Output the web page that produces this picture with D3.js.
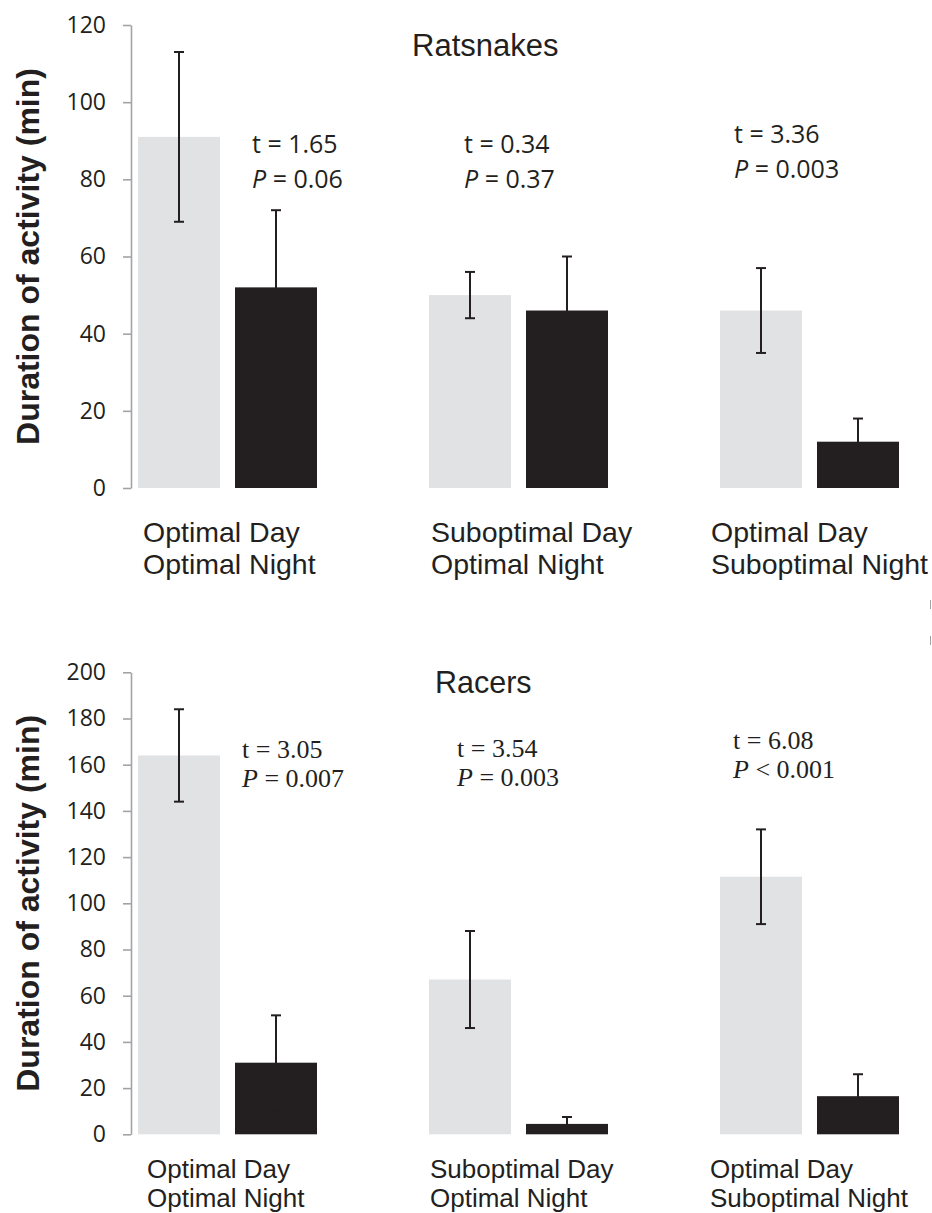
<!DOCTYPE html>
<html>
<head>
<meta charset="utf-8">
<script src="https://cdn.jsdelivr.net/npm/d3@7"></script>
<style>
  html, body { margin: 0; padding: 0; background: #fff; }
  svg { display: block; }
</style>
</head>
<body>
<div id="chart"></div>
<script>
// categories
var groups = ['OD_ON', 'SD_ON', 'OD_SN'];
var groupLines = [
    ['Optimal Day', 'Optimal Night'],
    ['Suboptimal Day', 'Optimal Night'],
    ['Optimal Day', 'Suboptimal Night']
];
var periods = ['Day', 'Night'];

// ratsnakes (min), mean and error
var ratDay = [91, 50, 46];
var ratDayErr = [22, 6, 11];
var ratNight = [52, 46, 12];
var ratNightErr = [20, 14, 6];
var ratT = ['1.65', '0.34', '3.36'];
var ratP = ['= 0.06', '= 0.37', '= 0.003'];
var ratTicks = [0, 20, 40, 60, 80, 100, 120];

// racers (min)
var racerDay = [164, 67, 111.5];
var racerDayErr = [20, 21, 20.5];
var racerNight = [31, 4.5, 16.5];
var racerNightErr = [20.5, 3, 9.5];
var racerT = ['3.05', '3.54', '6.08'];
var racerP = ['= 0.007', '= 0.003', '< 0.001'];
var racerTicks = [0, 20, 40, 60, 80, 100, 120, 140, 160, 180, 200];

var WIDTH = 932;
var HEIGHT = 1213;
var AXIS_X = 131;
var LIGHT = '#e1e2e4';
var DARK = '#231f20';
var TEXT = '#231f20';
var AXIS_GREY = '#a3a3a5';

var svg = d3.select('#chart').append('svg')
    .attr('width', WIDTH)
    .attr('height', HEIGHT);

// shared x layout for both panels
var x0 = d3.scaleBand()
    .domain(groups)
    .range([82, 955])
    .paddingInner(112 / 291)
    .paddingOuter(56 / 291);

var x1 = d3.scaleBand()
    .domain(periods)
    .range([0, x0.bandwidth()])
    .paddingInner(15 / 97)
    .paddingOuter(0);

function drawPanel(p) {
    var y = d3.scaleLinear().domain(p.domain).range(p.range);
    var g = svg.append('g');

    // y axis
    var axis = g.append('g')
        .attr('transform', `translate(${AXIS_X},0)`)
        .call(d3.axisLeft(y).tickValues(p.ticks).tickSize(8).tickSizeOuter(0).tickPadding(17));
    axis.select('.domain').attr('stroke', AXIS_GREY).attr('stroke-width', 1.6);
    axis.selectAll('.tick line').attr('stroke', AXIS_GREY).attr('stroke-width', 1.6);
    axis.selectAll('.tick text')
        .attr('fill', TEXT)
        .style('font-family', '"Open Sans", sans-serif')
        .style('font-size', '23px');

    // axis title
    var yc = (p.range[0] + p.range[1]) / 2;
    g.append('text')
        .attr('transform', `translate(39,${yc})rotate(-90)`)
        .style('text-anchor', 'middle')
        .style('font-family', '"Liberation Sans", Arial, sans-serif')
        .style('font-weight', 'bold')
        .style('font-size', '32px')
        .attr('fill', TEXT)
        .text('Duration of activity (min)');

    var rows = groups.map((d, i) => ({
        group: d,
        bars: [
            { period: 'Day', value: p.day[i], err: p.dayErr[i], color: LIGHT },
            { period: 'Night', value: p.night[i], err: p.nightErr[i], color: DARK }
        ]
    }));

    var grp = g.selectAll('.grp')
        .data(rows)
        .enter()
        .append('g')
        .attr('class', 'grp')
        .attr('transform', (d) => `translate(${x0(d.group)},0)`);

    grp.selectAll('rect')
        .data((d) => d.bars)
        .enter()
        .append('rect')
        .attr('x', (d) => x1(d.period))
        .attr('width', x1.bandwidth())
        .attr('y', (d) => y(d.value))
        .attr('height', (d) => y(0) - y(d.value))
        .attr('fill', (d) => d.color);

    // error bars
    var eb = grp.selectAll('.err')
        .data((d) => d.bars)
        .enter()
        .append('g')
        .attr('class', 'err')
        .attr('stroke', DARK)
        .attr('stroke-width', 2);
    var cx = (d) => x1(d.period) + x1.bandwidth() / 2;
    eb.append('line')
        .attr('x1', cx).attr('x2', cx)
        .attr('y1', (d) => y(d.value + d.err))
        .attr('y2', (d) => y(d.value - d.err));
    eb.append('line')
        .attr('x1', (d) => cx(d) - 5).attr('x2', (d) => cx(d) + 5)
        .attr('y1', (d) => y(d.value + d.err))
        .attr('y2', (d) => y(d.value + d.err));
    eb.append('line')
        .attr('x1', (d) => cx(d) - 5).attr('x2', (d) => cx(d) + 5)
        .attr('y1', (d) => y(d.value - d.err))
        .attr('y2', (d) => y(d.value - d.err));

    // panel title
    g.append('text')
        .attr('x', p.titleX)
        .attr('y', p.titleY)
        .style('font-family', '"Liberation Sans", Arial, sans-serif')
        .style('font-size', p.titleSize + 'px')
        .attr('fill', TEXT)
        .text(p.title);

    // statistics
    groups.forEach((d, i) => {
        var st = p.stats[i];
        var t = g.append('text')
            .attr('fill', TEXT)
            .style('font-family', p.statFont)
            .style('font-size', p.statSize + 'px');
        t.append('tspan')
            .attr('x', x0(d) + st[0])
            .attr('y', st[1])
            .text('t = ' + p.t[i]);
        var l2 = t.append('tspan')
            .attr('x', x0(d) + st[0])
            .attr('y', st[1] + p.statGap);
        l2.append('tspan').style('font-style', 'italic').text('P');
        l2.append('tspan').text(' ' + p.p[i]);
    });

    // category labels
    groups.forEach((d, i) => {
        var lab = g.append('text')
            .attr('fill', TEXT)
            .style('font-family', '"Liberation Sans", Arial, sans-serif')
            .style('font-size', p.labelSize + 'px');
        groupLines[i].forEach((line, j) => {
            lab.append('tspan')
                .attr('x', x0(d) + p.labelDx[i])
                .attr('y', p.labelY + j * p.labelGap)
                .text(line);
        });
    });
}

drawPanel({
    title: 'Ratsnakes', titleX: 412, titleY: 56, titleSize: 31,
    domain: [0, 120], range: [488, 25], ticks: ratTicks,
    day: ratDay, dayErr: ratDayErr, night: ratNight, nightErr: ratNightErr,
    t: ratT, p: ratP,
    statFont: '"Open Sans", sans-serif', statSize: 25, statGap: 35,
    stats: [[114, 153], [35, 153], [14, 143]],
    labelSize: 28.5, labelY: 542, labelGap: 31.5, labelDx: [5, 2, -9]
});

drawPanel({
    title: 'Racers', titleX: 435, titleY: 693, titleSize: 30.5,
    domain: [0, 200], range: [1134.3, 672.3], ticks: racerTicks,
    day: racerDay, dayErr: racerDayErr, night: racerNight, nightErr: racerNightErr,
    t: racerT, p: racerP,
    statFont: '"Liberation Serif", "Times New Roman", serif', statSize: 26, statGap: 29,
    stats: [[104, 758], [28, 757], [13, 749]],
    labelSize: 26, labelY: 1178, labelGap: 29, labelDx: [9, 1, -10]
});

// stray tick marks at the right edge
svg.selectAll('.stray')
    .data([600, 636])
    .enter()
    .append('line')
    .attr('x1', 930.5).attr('x2', 930.5)
    .attr('y1', (d) => d).attr('y2', (d) => d + 9)
    .attr('stroke', AXIS_GREY)
    .attr('stroke-width', 1);
</script>
</body>
</html>
